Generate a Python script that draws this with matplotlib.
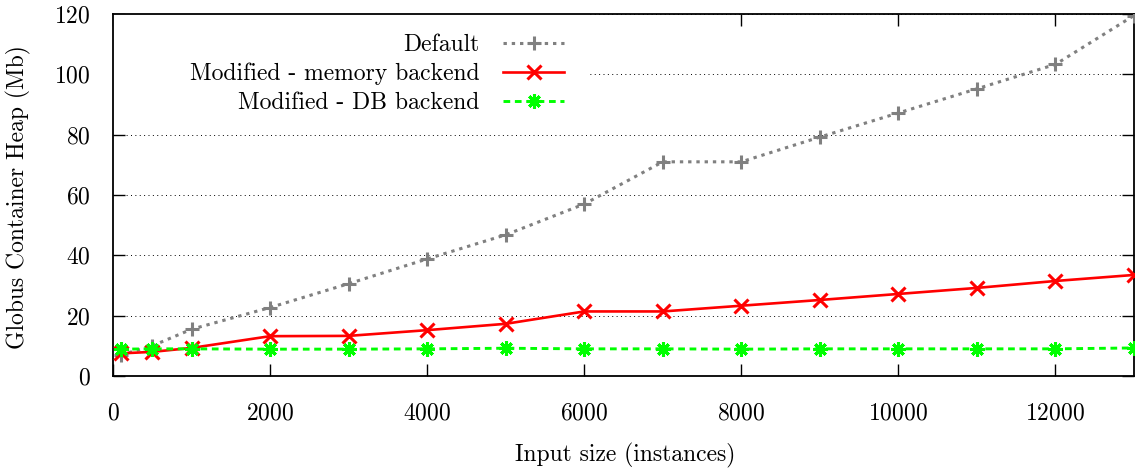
import matplotlib
matplotlib.use("Agg")
import matplotlib.pyplot as plt
from matplotlib.patches import Rectangle

plt.rcParams['font.family'] = ['cmr10', 'DejaVu Serif']
plt.rcParams['axes.formatter.use_mathtext'] = True
plt.rcParams['mathtext.fontset'] = 'cm'

x = [100, 500, 1000, 2000, 3000, 4000, 5000, 6000, 7000, 8000, 9000, 10000, 11000, 12000, 13000]
default = [7.0, 10.0, 15.5, 22.7, 30.6, 38.8, 46.8, 57.0, 71.0, 71.0, 79.2, 87.2, 95.2, 103.3, 119.5]
memory = [7.5, 8.0, 9.3, 13.2, 13.3, 15.2, 17.3, 21.4, 21.4, 23.3, 25.2, 27.2, 29.2, 31.5, 33.5]
db = [8.9, 9.0, 9.0, 8.9, 8.9, 9.0, 9.2, 9.0, 9.0, 8.9, 9.0, 9.0, 9.0, 9.0, 9.3]
labels = ["Default", "Modified - memory backend", "Modified - DB backend"]
xticks = [0, 2000, 4000, 6000, 8000, 10000, 12000]
yticks = [0, 20, 40, 60, 80, 100, 120]

W, H = 1136, 470
fig = plt.figure(figsize=(W / 100, H / 100), dpi=100)
L, R, T, B = 113, 1134, 14, 376
ax = fig.add_axes([L / W, 1 - B / H, (R - L) / W, (B - T) / H])

FS = 17
ax.plot(x, default, color='#808080', lw=2.2, dashes=(1.1, 1.6), marker='+', ms=10, mew=2.2, label=labels[0], zorder=3)
ax.plot(x, memory, color='#ff0000', lw=1.9, linestyle='-', marker='x', ms=9.5, mew=2.2, label=labels[1], zorder=3)
ax.plot(x, db, color='#00ff00', lw=2.1, dashes=(2.3, 1.6), marker=(8, 2, 0), ms=10.5, mew=2.2, label=labels[2], zorder=3)

ax.set_xlim(0, 13000)
ax.set_ylim(0, 120)
ax.set_xticks(xticks)
ax.set_yticks(yticks)
ax.tick_params(direction='in', length=8.5, width=1.0, top=True, right=True,
               labelsize=FS, colors='black')
ax.tick_params(axis='x', pad=19)
ax.tick_params(axis='y', pad=16)
for s in ax.spines.values():
    s.set_linewidth(1.3)

ax.set_axisbelow(True)
ax.yaxis.grid(True, color='black', lw=0.7, dashes=(1, 3.5))

# opaque key area
ax.add_patch(Rectangle((0, 0.73), (588 - L) / (R - L), 0.27, transform=ax.transAxes,
                       facecolor='white', edgecolor='none', zorder=1))

leg = ax.legend(loc='upper right', bbox_to_anchor=((576 - L) / (R - L), (B - 22) / (B - T)),
                markerfirst=False, frameon=False, fontsize=FS, borderpad=0,
                handlelength=2.6, handletextpad=1.0, labelspacing=0.28)

fig.text(18 / W, 1 - 197 / H, "Globus Container Heap (Mb)", rotation=90, ha='center', va='center', fontsize=FS)
fig.text(625 / W, 1 - 455 / H, "Input size (instances)", ha='center', va='center', fontsize=FS)

fig.savefig("out.png", dpi=100)
